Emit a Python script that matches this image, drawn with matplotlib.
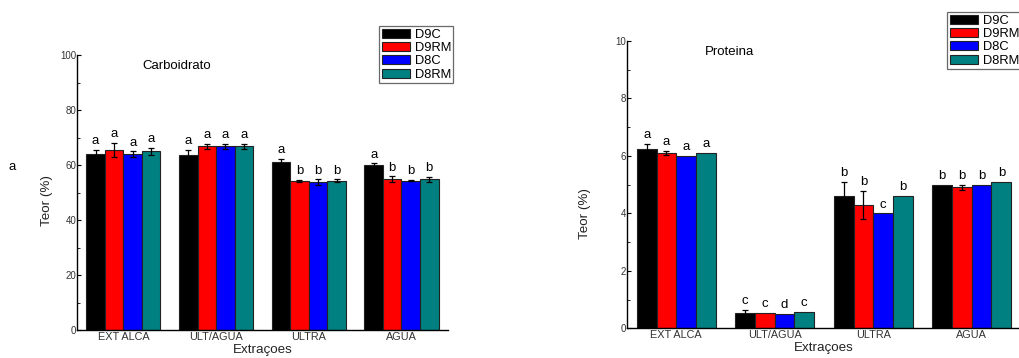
import matplotlib
matplotlib.use('Agg')
import matplotlib.pyplot as plt
from matplotlib.ticker import MultipleLocator
import numpy as np

plt.rcParams['font.family'] = ['Liberation Sans', 'DejaVu Sans']

# dados
extracoes = ['EXT ALCA', 'ULT/AGUA', 'ULTRA', 'AGUA']
series = ['D9C', 'D9RM', 'D8C', 'D8RM']
cores = ['#000000', '#ff0000', '#0000ff', '#008080']

carb_vals = [[64.0, 63.5, 61.2, 60.2],
             [65.5, 66.8, 54.3, 54.9],
             [63.9, 66.8, 53.8, 54.4],
             [65.1, 66.8, 54.4, 54.8]]
carb_err = [[1.6, 2.1, 1.2, 0.4],
            [2.5, 1.0, 0.4, 1.0],
            [1.1, 1.0, 1.0, 0.2],
            [1.3, 1.0, 0.4, 1.0]]
carb_letras = [['a', 'a', 'a', 'a'],
               ['a', 'a', 'b', 'b'],
               ['a', 'a', 'b', 'b'],
               ['a', 'a', 'b', 'b']]

prot_vals = [[6.22, 0.54, 4.60, 5.00],
             [6.10, 0.54, 4.29, 4.90],
             [6.00, 0.51, 4.00, 5.00],
             [6.10, 0.57, 4.60, 5.09]]
prot_err = [[0.19, 0.10, 0.50, 0.0],
            [0.08, 0.0, 0.50, 0.10],
            [0.0, 0.0, 0.0, 0.0],
            [0.0, 0.0, 0.0, 0.0]]
prot_letras = [['a', 'c', 'b', 'b'],
               ['a', 'c', 'b', 'b'],
               ['a', 'd', 'c', 'b'],
               ['a', 'c', 'b', 'b']]


def painel(ax, vals, errs, letras, titulo, ymax, maior, menor, titulo_xy, leg_bbox):
    x = np.arange(len(extracoes))
    w = 0.2
    for i, nome in enumerate(series):
        pos = x - 0.3 + i * w
        ax.bar(pos, vals[i], w, color=cores[i], edgecolor='#222222', linewidth=0.8,
               label=nome, zorder=2)
        e = np.array(errs[i])
        mask = e > 0
        ax.errorbar(pos[mask], np.array(vals[i])[mask], yerr=e[mask], fmt='none',
                    ecolor='black', elinewidth=0.9, capsize=2.5, capthick=0.9, zorder=3)
        for j in range(len(extracoes)):
            ax.annotate(letras[i][j], (pos[j], vals[i][j] + errs[i][j]),
                        xytext=(0, 2), textcoords='offset points',
                        ha='center', va='bottom', fontsize=9.5)
    ax.set_xlim(-0.5, 3.5)
    ax.set_ylim(0, ymax)
    ax.yaxis.set_major_locator(MultipleLocator(maior))
    ax.yaxis.set_minor_locator(MultipleLocator(menor))
    ax.set_xticks(x)
    ax.set_xticklabels(extracoes, fontsize=7.8, color='#333333')
    ax.tick_params(axis='x', length=0, pad=1.5)
    ax.tick_params(axis='y', which='both', direction='in', labelsize=7,
                   labelcolor='#333333', pad=0.5)
    ax.tick_params(axis='y', which='major', length=3)
    ax.tick_params(axis='y', which='minor', length=2)
    ax.spines['top'].set_visible(False)
    ax.spines['right'].set_visible(False)
    ax.spines['left'].set_linewidth(1.0)
    ax.spines['bottom'].set_linewidth(1.0)
    ax.set_xlabel('Extraçoes', fontsize=9.6, color='#222222', labelpad=1)
    ax.set_ylabel('Teor (%)', fontsize=9.6, color='#222222')
    ax.text(titulo_xy[0], titulo_xy[1], titulo, transform=ax.transAxes,
            fontsize=9.5, ha='center', va='center')
    leg = ax.legend(loc='upper left', bbox_to_anchor=leg_bbox, bbox_transform=ax.figure.transFigure,
                    fontsize=9.3, frameon=True, fancybox=False, edgecolor='#444444',
                    handlelength=2.2, handleheight=0.7, handletextpad=0.35,
                    labelspacing=0.1, borderpad=0.2, borderaxespad=0)
    leg.get_frame().set_linewidth(0.9)


fig = plt.figure(figsize=(10.2, 3.58), dpi=100)
ax1 = fig.add_axes([0.0755, 0.078, 0.3635, 0.768])
ax2 = fig.add_axes([0.6147, 0.083, 0.3863, 0.803])

painel(ax1, carb_vals, carb_err, carb_letras, 'Carboidrato', 100, 20, 10,
       (0.27, 0.96), (379 / 1020, 1 - 26 / 358))
painel(ax2, prot_vals, prot_err, prot_letras, 'Proteina', 10, 2, 1,
       (0.26, 0.96), (947 / 1020, 1 - 12 / 358))

ax1.yaxis.set_label_coords(-0.065, 0.47)
ax2.yaxis.set_label_coords(-0.091, 0.40)

fig.text(12 / 1020, 1 - 167 / 358, 'a', fontsize=9.5, ha='center', va='center')

fig.savefig('out.png', dpi=100)
